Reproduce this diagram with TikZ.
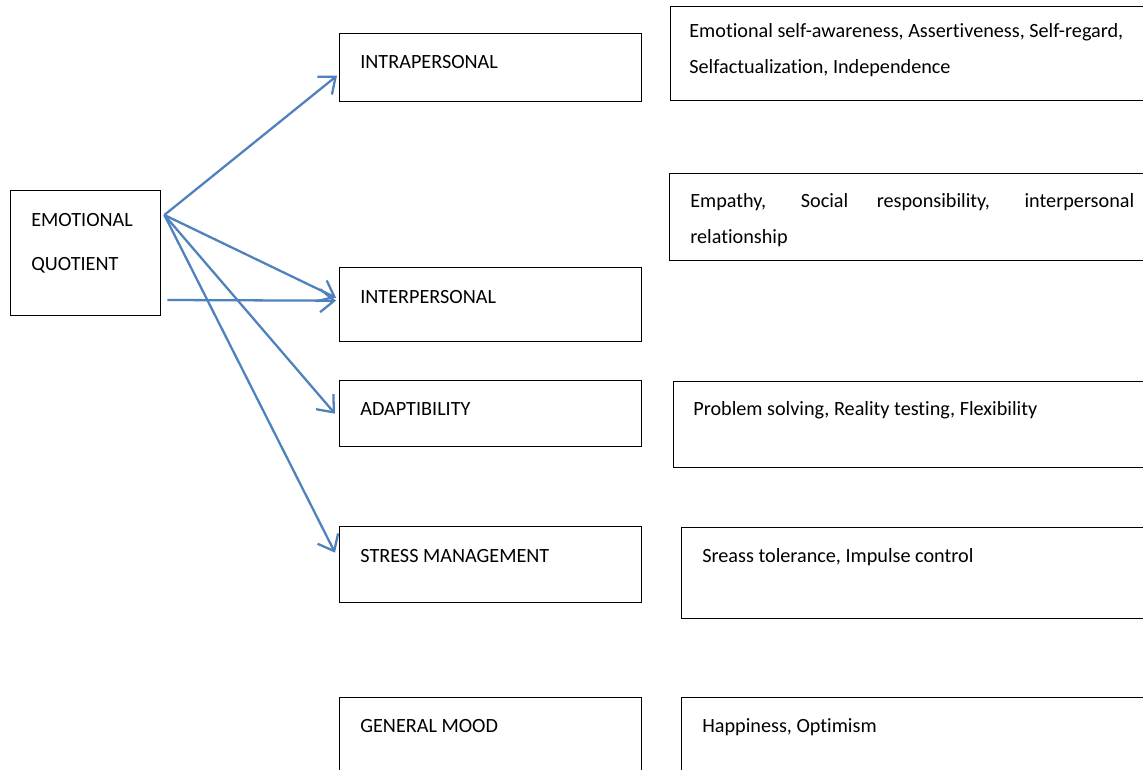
\documentclass[tikz,border=0pt]{standalone}
\usepackage{fontspec}
\setmainfont[Ligatures=NoCommon]{Carlito}
\usetikzlibrary{arrows.meta}
\definecolor{arrblue}{RGB}{79,129,189}

\begin{document}
\begin{tikzpicture}[x=0.02cm,y=-0.02cm,
  box/.style={draw=black,line width=0.8pt,rectangle,anchor=north west,inner sep=0pt,minimum width=6.04cm},
  side/.style={box,minimum width=10cm},
  txt/.style={anchor=base west,inner sep=0pt,align=left,font=\fontsize{11.5}{20.5}\selectfont},
  arr/.style={draw=arrblue,line width=1.3pt,-{Straight Barb[length=2.8mm,width=4.6mm]}}]
  \clip (0,0) rectangle (1143,770);
  % source box on the left (multi-line texts sit on their last baseline)
  \node[box,minimum width=3cm,minimum height=2.5cm] (eq) at (10,190) {};
  \node[txt,font=\fontsize{11.5}{25.3}\selectfont] (eqt) at (31,271) {EMOTIONAL\\QUOTIENT};
  % the five components
  \node[box,minimum height=1.36cm] (intra) at (339,33) {};
  \node[box,minimum height=1.48cm] (inter) at (339,267) {};
  \node[box,minimum height=1.32cm] (adapt) at (339,380) {};
  \node[box,minimum height=1.52cm] (stress) at (339,526) {};
  \node[box,minimum height=2cm] (mood) at (339,697) {};
  \node[txt] (intrat) at (360,69) {INTRAPERSONAL};
  \node[txt] (intert) at (360,303) {INTERPERSONAL};
  \node[txt] (adaptt) at (360,415) {ADAPTIBILITY};
  \node[txt] (stresst) at (360,562) {STRESS MANAGEMENT};
  \node[txt] (moodt) at (360,732) {GENERAL MOOD};
  % what each component covers (boxes run off the right edge)
  \node[side,minimum height=1.88cm] (r1) at (670,6) {};
  \node[side,minimum height=1.74cm] (r2) at (669,173) {};
  \node[side,minimum height=1.72cm] (r3) at (673,381) {};
  \node[side,minimum height=1.82cm] (r4) at (681,527) {};
  \node[side,minimum height=2cm] (r5) at (681,697) {};
  \node[txt] (r1t) at (689,74) {Emotional self-awareness, Assertiveness, Self-regard,\\Selfactualization, Independence};
  \node[txt,font=\fontsize{11.5}{21}\selectfont] (r2t) at (690,244) {\makebox[8.88cm][s]{Empathy, Social responsibility, interpersonal}\\relationship};
  \node[txt] (r3t) at (693,415) {Problem solving, Reality testing, Flexibility};
  \node[txt] (r4t) at (702,562) {Sreass tolerance, Impulse control};
  \node[txt] (r5t) at (702,732) {Happiness, Optimism};
  % arrows
  \coordinate (src) at ([shift={(3,25)}]eq.north east);
  \coordinate (src2) at ([shift={(6,110)}]eq.north east);
  \draw[arr] (src) -- ([shift={(-2,8)}]intra.west);
  \draw[arr] (src) -- ([shift={(-3,-7)}]inter.west);
  \draw[arr] (src2) -- ([shift={(-3,-4)}]inter.west);
  \draw[arr] (src) -- ([shift={(-4,0)}]adapt.west);
  \draw[arr] (src) -- ([shift={(-4,-12)}]stress.west);
\end{tikzpicture}
\end{document}
